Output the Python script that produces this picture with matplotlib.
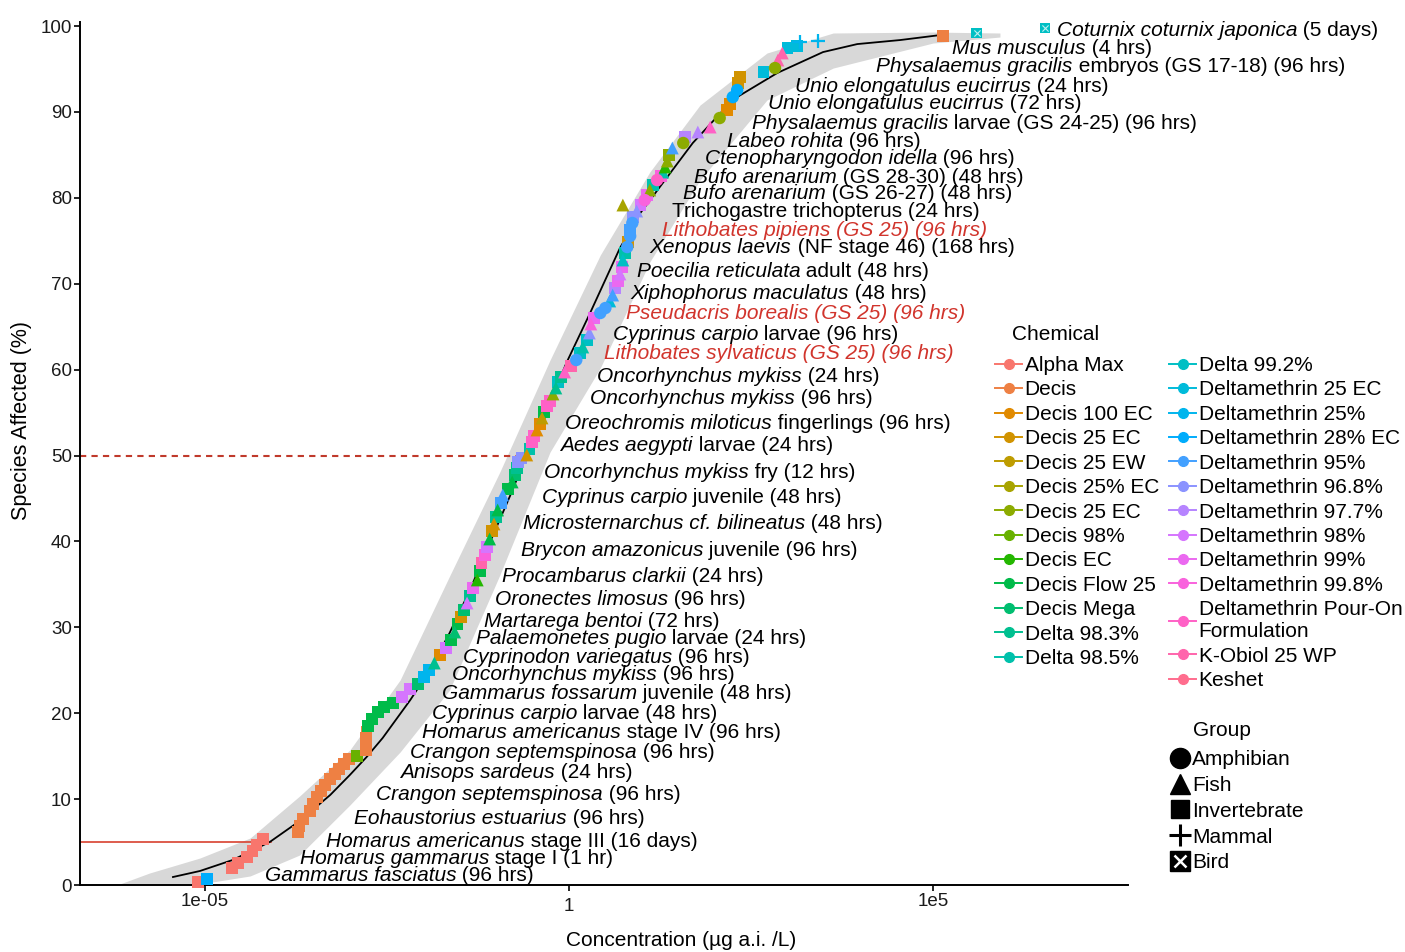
import matplotlib

matplotlib.use("Agg")

import matplotlib.pyplot as plt
import numpy as np
from matplotlib.lines import Line2D
from matplotlib.transforms import ScaledTranslation

plt.rcParams["font.family"] = "Liberation Sans"

# ---- data ----
chemicals = [
    "Alpha Max", "Decis", "Decis 100 EC", "Decis 25 EC", "Decis 25 EW", "Decis 25% EC",
    "Decis 25 EC ", "Decis 98%", "Decis EC", "Decis Flow 25", "Decis Mega", "Delta 98.3%",
    "Delta 98.5%", "Delta 99.2%", "Deltamethrin 25 EC", "Deltamethrin 25%",
    "Deltamethrin 28% EC", "Deltamethrin 95%", "Deltamethrin 96.8%", "Deltamethrin 97.7%",
    "Deltamethrin 98%", "Deltamethrin 99%", "Deltamethrin 99.8%",
    "Deltamethrin Pour-On\nFormulation", "K-Obiol 25 WP", "Keshet",
]
groups = ["Amphibian", "Fish", "Invertebrate", "Mammal", "Bird"]

# log10 concentration (ug a.i./L) and percent of species affected for each toxicity value
point_log_conc = [
    -5.10, -4.97, -4.63, -4.55, -4.42, -4.35, -4.29, -4.20, -3.72, -3.70,
    -3.65, -3.56, -3.52, -3.46, -3.41, -3.35, -3.28, -3.21, -3.16, -3.09,
    -3.02, -2.91, -2.79, -2.79, -2.79, -2.78, -2.76, -2.71, -2.62, -2.54,
    -2.42, -2.29, -2.18, -2.07, -1.99, -1.92, -1.85, -1.77, -1.69, -1.62,
    -1.57, -1.53, -1.48, -1.44, -1.40, -1.36, -1.32, -1.26, -1.22, -1.20,
    -1.15, -1.13, -1.09, -1.06, -1.03, -1.00, -0.98, -0.93, -0.91, -0.84,
    -0.78, -0.74, -0.71, -0.70, -0.65, -0.58, -0.54, -0.51, -0.48, -0.44,
    -0.40, -0.37, -0.34, -0.30, -0.26, -0.22, -0.18, -0.15, -0.11, -0.06,
    0.03, 0.10, 0.15, 0.19, 0.25, 0.28, 0.30, 0.34, 0.43, 0.50,
    0.56, 0.60, 0.63, 0.67, 0.70, 0.73, 0.74, 0.77, 0.80, 0.81,
    0.84, 0.84, 0.87, 0.88, 0.93, 0.74, 0.98, 1.04, 1.07, 1.11,
    1.15, 1.21, 1.26, 1.29, 1.32, 1.35, 1.37, 1.42, 1.57, 1.59,
    1.77, 1.94, 2.07, 2.17, 2.21, 2.25, 2.31, 2.32, 2.35, 2.67,
    2.83, 2.87, 2.93, 3.00, 3.13, 3.17, 3.42, 5.14, 5.60, 6.54,
]
point_pct = [
    0.35, 0.70, 1.98, 2.56, 3.26, 3.96, 4.66, 5.36, 6.17, 6.87,
    7.68, 8.61, 9.43, 10.24, 10.94, 11.64, 12.34, 12.92, 13.50, 14.09,
    14.67, 15.02, 15.72, 16.41, 17.11, 17.81, 18.51, 19.32, 20.14, 20.72,
    21.19, 21.89, 22.82, 23.40, 24.21, 25.03, 25.84, 26.78, 27.59, 28.52,
    29.45, 30.38, 31.20, 32.01, 32.83, 33.64, 34.57, 35.51, 36.55, 37.49,
    38.42, 39.35, 40.28, 41.21, 42.03, 42.84, 43.66, 44.47, 45.40, 46.10,
    46.92, 47.73, 48.54, 49.24, 49.71, 50.06, 50.76, 51.57, 52.27, 52.97,
    53.67, 54.37, 55.06, 55.76, 56.34, 57.16, 57.86, 58.56, 59.14, 59.72,
    60.42, 61.12, 61.93, 62.63, 63.45, 64.26, 65.31, 66.01, 66.59, 67.17,
    67.99, 68.68, 69.50, 70.31, 71.13, 71.94, 72.76, 73.57, 74.27, 74.85,
    75.55, 76.25, 77.07, 77.76, 78.46, 79.16, 79.16, 79.74, 80.33, 80.91,
    81.49, 82.07, 82.54, 83.00, 83.59, 84.28, 84.98, 85.80, 86.38, 87.08,
    87.66, 88.24, 89.29, 90.22, 90.92, 91.73, 92.55, 93.36, 94.06, 94.64,
    95.11, 96.04, 96.86, 97.44, 97.67, 98.14, 98.25, 98.84, 99.19, 99.77,
]
point_chem = [
    0, 16, 0, 0, 0, 0, 0, 0, 1, 1,
    1, 1, 1, 1, 1, 1, 1, 1, 1, 1,
    1, 7, 1, 1, 1, 1, 9, 9, 9, 9,
    9, 20, 20, 10, 15, 15, 11, 2, 20, 9,
    10, 9, 3, 10, 20, 11, 21, 8, 9, 24,
    22, 20, 9, 3, 3, 11, 9, 17, 17, 9,
    9, 10, 11, 18, 18, 3, 12, 23, 23, 2,
    2, 4, 9, 23, 23, 6, 11, 13, 11, 23,
    24, 17, 13, 12, 13, 18, 22, 21, 17, 17,
    14, 17, 19, 21, 20, 21, 13, 12, 17, 3,
    17, 17, 17, 18, 18, 5, 20, 22, 21, 6,
    12, 23, 22, 12, 8, 6, 6, 17, 6, 19,
    19, 23, 6, 2, 2, 16, 16, 3, 3, 14,
    6, 24, 24, 14, 14, 15, 15, 1, 13, 13,
]
# A = Amphibian, F = Fish, I = Invertebrate, M = Mammal, B = Bird
point_group = list(
    "IIIIIIIIII"
    "IIIIIIIIII"
    "IIIIIIIIII"
    "IIIIIIFIII"
    "FIIIFIIFII"
    "IIFIFIFIFI"
    "FIIIIFIIIF"
    "IFIIIFFIIF"
    "IAIFIFFIAA"
    "FFIIFIFIAI"
    "AIAIFFIAIF"
    "IAIFFFIFAI"
    "FFAIIAAIII"
    "AFFIIMMIBB"
)

# fitted distribution curve
curve_log_conc = [
    -5.44, -5.07, -4.62, -4.11, -3.70, -3.28, -3.01, -2.78, -2.56, -2.18,
    -1.91, -1.64, -1.36, -1.09, -0.81, -0.58, -0.26, -0.03, 0.29, 0.70,
    0.98, 1.35, 1.70, 2.12, 2.31, 2.86, 3.49, 3.96, 4.55, 5.10,
]
curve_pct = [
    0.93, 1.63, 2.91, 5.01, 7.45, 10.48, 12.81, 14.90, 17.11, 21.54,
    25.03, 29.34, 34.34, 39.81, 45.29, 50.06, 56.23, 60.88, 66.59, 74.16,
    78.23, 82.42, 86.38, 90.22, 91.73, 94.53, 96.97, 97.90, 98.37, 98.95,
]

# confidence band
band_log_conc = [
    -6.17, -5.76, -5.07, -4.38, -3.70, -3.01, -2.32, -1.64, -0.95, -0.26,
    0.43, 1.11, 1.80, 2.72, 3.63, 5.00, 5.92,
]
band_low = [
    0.0, 0.0, 0.12, 1.05, 3.49, 9.31, 15.48, 22.70, 36.09, 50.41,
    60.19, 72.53, 82.07, 91.39, 95.11, 98.02, 98.72,
]
band_high = [
    0.12, 1.40, 3.14, 5.47, 10.36, 15.72, 23.86, 35.97, 48.08, 61.12,
    73.34, 83.00, 90.80, 96.86, 99.19, 99.30, 99.19,
]

hc5_conc = 10 ** -4.10
hc50_conc = 10 ** -0.58

# species labels: italic part, plain part, position (log10 conc, percent)
label_italic = [
    "Coturnix coturnix japonica", "Mus musculus", "Physalaemus gracilis",
    "Unio elongatulus eucirrus", "Unio elongatulus eucirrus", "Physalaemus gracilis",
    "Labeo rohita", "Ctenopharyngodon idella", "Bufo arenarium", "Bufo arenarium",
    "", "Lithobates pipiens (GS 25) (96 hrs)", "Xenopus laevis", "Poecilia reticulata",
    "Xiphophorus maculatus", "Pseudacris borealis (GS 25) (96 hrs)", "Cyprinus carpio",
    "Lithobates sylvaticus (GS 25) (96 hrs)", "Oncorhynchus mykiss", "Oncorhynchus mykiss",
    "Oreochromis miloticus", "Aedes aegypti", "Oncorhynchus mykiss", "Cyprinus carpio",
    "Microsternarchus cf. bilineatus", "Brycon amazonicus", "Procambarus clarkii",
    "Oronectes limosus", "Martarega bentoi", "Palaemonetes pugio", "Cyprinodon variegatus",
    "Oncorhynchus mykiss", "Gammarus fossarum", "Cyprinus carpio", "Homarus americanus",
    "Crangon septemspinosa", "Anisops sardeus", "Crangon septemspinosa",
    "Eohaustorius estuarius", "Homarus americanus", "Homarus gammarus", "Gammarus fasciatus",
]
label_plain = [
    " (5 days)", " (4 hrs)", " embryos (GS 17-18) (96 hrs)", " (24 hrs)", " (72 hrs)",
    " larvae (GS 24-25) (96 hrs)", " (96 hrs)", " (96 hrs)", " (GS 28-30) (48 hrs)",
    " (GS 26-27) (48 hrs)", "Trichogastre trichopterus (24 hrs)", "", " (NF stage 46) (168 hrs)",
    " adult (48 hrs)", " (48 hrs)", "", " larvae (96 hrs)", "", " (24 hrs)", " (96 hrs)",
    " fingerlings (96 hrs)", " larvae (24 hrs)", " fry (12 hrs)", " juvenile (48 hrs)",
    " (48 hrs)", " juvenile (96 hrs)", " (24 hrs)", " (96 hrs)", " (72 hrs)",
    " larvae (24 hrs)", " (96 hrs)", " (96 hrs)", " juvenile (48 hrs)", " larvae (48 hrs)",
    " stage IV (96 hrs)", " (96 hrs)", " (24 hrs)", " (96 hrs)", " (96 hrs)",
    " stage III (16 days)", " stage I (1 hr)", " (96 hrs)",
]
label_log_conc = [
    6.70, 5.26, 4.22, 3.10, 2.73, 2.51, 2.17, 1.87, 1.72, 1.57,
    1.42, 1.28, 1.11, 0.93, 0.85, 0.78, 0.60, 0.48, 0.39, 0.29,
    -0.05, -0.12, -0.34, -0.37, -0.63, -0.66, -0.92, -1.02, -1.17, -1.28,
    -1.46, -1.61, -1.75, -1.88, -2.02, -2.18, -2.32, -2.65, -2.95, -3.34,
    -3.70, -4.18,
]
label_pct = [
    99.53, 97.44, 95.34, 93.01, 91.04, 88.71, 86.50, 84.63, 82.42, 80.56,
    78.46, 76.14, 74.16, 71.48, 68.92, 66.59, 64.14, 61.82, 59.25, 56.69,
    53.67, 51.11, 48.08, 45.17, 42.03, 39.00, 35.97, 33.18, 30.73, 28.64,
    26.54, 24.45, 22.24, 20.02, 17.81, 15.48, 13.04, 10.48, 7.80, 5.12,
    3.14, 1.05,
]
label_red = [11, 15, 17]


def hue_colour(h, c=100.0, l=65.0):
    """ggplot-style hcl() colour as an RGB tuple."""
    h = np.deg2rad(h)
    u, v = c * np.cos(h), c * np.sin(h)
    xn, yn, zn = 95.047, 100.0, 108.883
    un = 4 * xn / (xn + 15 * yn + 3 * zn)
    vn = 9 * yn / (xn + 15 * yn + 3 * zn)
    y = yn * ((l + 16) / 116) ** 3
    up = u / (13 * l) + un
    vp = v / (13 * l) + vn
    x = y * 9 * up / (4 * vp)
    z = y * (12 - 3 * up - 20 * vp) / (4 * vp)
    x, y, z = x / 100, y / 100, z / 100
    rgb = np.array([
        3.2404542 * x - 1.5371385 * y - 0.4985314 * z,
        -0.9692660 * x + 1.8760108 * y + 0.0415560 * z,
        0.0556434 * x - 0.2040259 * y + 1.0572252 * z,
    ])
    rgb = np.where(rgb > 0.0031308, 1.055 * np.abs(rgb) ** (1 / 2.4) - 0.055, 12.92 * rgb)
    return tuple(np.clip(rgb, 0, 1))


hues = np.linspace(15, 375, len(chemicals) + 1)[:-1]
chem_colours = [hue_colour(h) for h in hues]

fig = plt.figure(figsize=(14.05, 9.52), dpi=100)
ax = fig.add_axes([80 / 1405, 1 - 885 / 952, 1048 / 1405, 863 / 952])

ax.set_xscale("log")
ax.set_xlim(10 ** -6.717, 10 ** 7.679)
ax.set_ylim(0, 100.47)

ax.fill_between(10 ** np.array(band_log_conc), band_low, band_high,
                color="#d8d8d8", linewidth=0, zorder=1)
ax.plot(10 ** np.array(curve_log_conc), curve_pct, color="black", lw=1.3, zorder=3)

ax.plot([ax.get_xlim()[0], hc5_conc], [5, 5], color="#d8412f", lw=1.2, zorder=2)
ax.plot([ax.get_xlim()[0], hc50_conc], [50, 50], color="#c0392b", lw=1.5,
        ls=(0, (3, 2.5)), zorder=2)

conc = 10 ** np.array(point_log_conc)
pct = np.array(point_pct)
cols = np.array([chem_colours[i] for i in point_chem])
grp = np.array(point_group)

for code, marker, size in [("I", "s", 70), ("F", "^", 85), ("A", "o", 80)]:
    m = grp == code
    ax.scatter(conc[m], pct[m], c=cols[m], marker=marker, s=size, linewidths=0,
               zorder=4, clip_on=False)
m = grp == "M"
ax.scatter(conc[m], pct[m], c=cols[m], marker="+", s=110, linewidths=1.6, zorder=4,
           clip_on=False)
m = grp == "B"
ax.scatter(conc[m], pct[m], c=cols[m], marker="s", s=60, linewidths=0, zorder=4,
           clip_on=False)
ax.scatter(conc[m], pct[m], c="#bff0f0", marker="x", s=20, linewidths=0.8, zorder=5,
           clip_on=False)

label_size = 15
for i, (it, pl) in enumerate(zip(label_italic, label_plain)):
    x = 10 ** label_log_conc[i]
    y = label_pct[i]
    if i in label_red:
        ax.text(x, y, it, fontsize=label_size, style="italic", color="#d1342c",
                ha="left", va="center", zorder=6)
    elif it:
        t = ax.text(x, y, it, fontsize=label_size, style="italic", color="black",
                    ha="left", va="center", zorder=6)
        ax.annotate(pl, xy=(1, 0), xycoords=t, ha="left", va="bottom",
                    fontsize=label_size, color="black", zorder=6)
    else:
        ax.text(x, y, pl, fontsize=label_size, color="black", ha="left", va="center",
                zorder=6)

# axes styling
for side in ["top", "right"]:
    ax.spines[side].set_visible(False)
for side in ["left", "bottom"]:
    ax.spines[side].set_linewidth(1.4)
ax.set_yticks(np.arange(0, 101, 10))
ax.set_xticks([1e-5, 1, 1e5])
ax.set_xticklabels(["1e-05", "1", "1e5"])
ax.xaxis.set_minor_locator(matplotlib.ticker.NullLocator())
ax.tick_params(axis="both", labelsize=13.5, length=4, width=1.2, pad=1.8,
               colors="black", labelcolor="#1a1a1a")
one_label = ax.xaxis.get_major_ticks()[1].label1
one_label.set_transform(one_label.get_transform()
                        + ScaledTranslation(0, -5 / 100, fig.dpi_scale_trans))

fig.text(681 / 1405, 1 - 941 / 952, "Concentration (µg a.i. /L)", fontsize=15,
         ha="center", va="center")
fig.text(22 / 1405, 1 - 420 / 952, "Species Affected (%)", fontsize=15.5,
         rotation=90, ha="center", va="center")

# legends (titles placed as plain text so the gap to the first key matches)
fig.text(1012 / 1405, 1 - 334 / 952, "Chemical", fontsize=15, ha="left", va="center")
chem_handles = [Line2D([0], [0], color=c, marker="o", markersize=7, lw=1.4)
                for c in chem_colours]
leg1 = ax.legend(chem_handles, chemicals, ncol=2, loc="upper left",
                 bbox_to_anchor=(995 / 1405, 1 - 356 / 952), bbox_transform=fig.transFigure,
                 frameon=False, fontsize=15, handlelength=1.3, handletextpad=0.12,
                 columnspacing=0.48, labelspacing=0.26, borderpad=0, borderaxespad=0)
ax.add_artist(leg1)

fig.text(1193 / 1405, 1 - 730 / 952, "Group", fontsize=15, ha="left", va="center")
grp_handles = [
    Line2D([0], [0], color="black", marker="o", ls="none", markersize=14.5),
    Line2D([0], [0], color="black", marker="^", ls="none", markersize=14),
    Line2D([0], [0], color="black", marker="s", ls="none", markersize=13),
    Line2D([0], [0], color="black", marker="+", ls="none", markersize=16, mew=2.2),
    (Line2D([0], [0], color="black", marker="s", ls="none", markersize=14),
     Line2D([0], [0], color="white", marker="x", ls="none", markersize=8.5, mew=1.8)),
]
ax.legend(grp_handles, groups, loc="upper left",
          bbox_to_anchor=(1171 / 1405, 1 - 750 / 952), bbox_transform=fig.transFigure,
          frameon=False, fontsize=15, handlelength=0.9, handletextpad=0.1,
          labelspacing=0.33, borderpad=0, borderaxespad=0)

fig.savefig("out.png", dpi=100)
